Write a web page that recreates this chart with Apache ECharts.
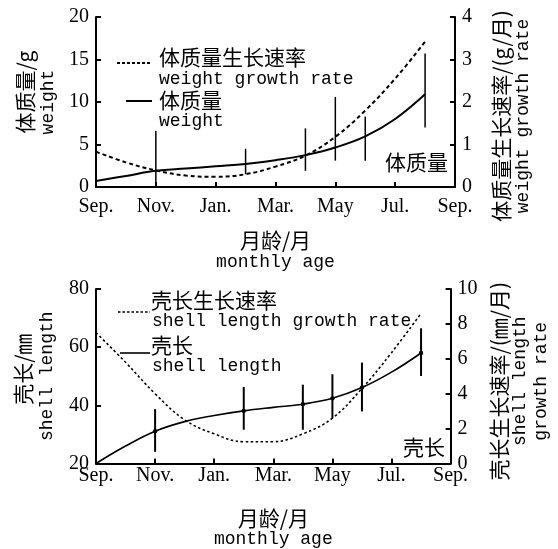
<!DOCTYPE html>
<html><head><meta charset="utf-8">
<script src="https://cdn.jsdelivr.net/npm/echarts@6/dist/echarts.min.js"></script>
<style>html,body{margin:0;padding:0;background:#fff}#c{width:558px;height:549px}</style>
</head><body><div id="c"></div>
<script>
const monthLabels = ['Sep.','Nov.','Jan.','Mar.','May','Jul.','Sep.'];
const months = [0,1,2,3,4,5,6,7,8,9,10,11];
const weight = [0.7,1.3,1.9,2.17,2.43,2.7,3.15,3.75,4.65,5.95,8.0,10.9];
const weightRate = [0.83,0.58,0.39,0.27,0.24,0.3,0.48,0.74,1.18,1.8,2.55,3.42];
const weightErrMonths = [2,5,7,8,9,11];
const weightErrLow = [0.6,1.5,1.9,3.1,3.1,7.0];
const weightErrHigh = [6.6,4.5,6.9,10.6,8.3,15.7];
const shell = [20,26,31.1,34.4,36.5,38.1,39.3,40.4,42.4,46.1,51.4,58];
const shellRate = [7.5,5.8,4.0,2.5,1.7,1.25,1.25,1.7,2.6,4.3,6.35,8.6];
const shellErrMonths = [2,5,7,8,9,11];
const shellErrMean = [31.1,38.1,40.4,42.4,46.1,58];
const shellErrLow = [24,31.6,31.6,35.6,37.9,50.1];
const shellErrHigh = [38.7,46.3,47.1,50.7,54.7,66.5];

const CJK = '"Noto Sans CJK SC"';
const MONO = '"Liberation Mono"';
const SERIF = '"Liberation Serif"';
const richName = (sp, padA) => ({
  a: {fontFamily: CJK, fontSize: 21, color: '#000', lineHeight: sp, padding: [0, 0, 0, padA || 0]},
  b: {fontFamily: MONO, fontSize: 18, color: '#000', lineHeight: sp}
});

function xAxisCfg(gridIndex, gap, labelMargin, sp) {
  return {
    type: 'value', gridIndex, min: 0, max: 12, interval: 2,
    name: '{a|月龄/月}\n{b|monthly age}', nameLocation: 'middle', nameGap: gap,
    nameTextStyle: {rich: richName(sp, 0)},
    axisLine: {lineStyle: {color: '#000', width: 2}},
    axisTick: {inside: true, length: 5, lineStyle: {color: '#000', width: 2}},
    axisLabel: {color: '#000', fontFamily: SERIF, fontSize: 20, margin: labelMargin,
      formatter: v => monthLabels[Math.round(v / 2)]},
    splitLine: {show: false}
  };
}
function yAxisCfg(gridIndex, pos, min, max, interval, name, gap, sp, pad, padA) {
  return {
    type: 'value', gridIndex, position: pos, min, max, interval,
    name, nameLocation: 'middle', nameGap: gap, nameRotate: 90,
    nameTextStyle: {rich: richName(sp, padA), padding: pad},
    axisLine: {show: true, lineStyle: {color: '#000', width: 2}},
    axisTick: {show: true, inside: true, length: 5, lineStyle: {color: '#000', width: 2}},
    axisLabel: {color: '#000', fontFamily: SERIF, fontSize: 20, margin: 7},
    splitLine: {show: false}
  };
}
function errSeries(xi, yi, ms, lo, hi, mean, width, dot) {
  return {
    type: 'custom', xAxisIndex: xi, yAxisIndex: yi,
    encode: {x: 0, y: [1, 2]},
    data: ms.map((m, i) => [m, lo[i], hi[i], mean ? mean[i] : 0]),
    renderItem: function (params, api) {
      const x = api.value(0);
      const p1 = api.coord([x, api.value(1)]);
      const p2 = api.coord([x, api.value(2)]);
      const children = [{type: 'line', shape: {x1: p1[0], y1: p1[1], x2: p2[0], y2: p2[1]},
        style: {stroke: '#000', lineWidth: width}}];
      if (dot) {
        const pm = api.coord([x, api.value(3)]);
        children.push({type: 'circle', shape: {cx: pm[0], cy: pm[1], r: 2.2}, style: {fill: '#000'}});
      }
      return {type: 'group', children};
    },
    z: 5
  };
}
function txt(x, y, text, font, align) {
  return {type: 'text', x, y, style: {text, font, fill: '#000', align: align || 'left', verticalAlign: 'middle'}};
}

const chart = echarts.init(document.getElementById('c'));
chart.setOption({
  backgroundColor: '#fff',
  animation: false,
  grid: [
    {left: 96, top: 17, width: 359, height: 170},
    {left: 96, top: 289, width: 359, height: 177}
  ],
  xAxis: [xAxisCfg(0, 42, 10, 22), xAxisCfg(1, 44, 2, 21)],
  yAxis: [
    yAxisCfg(0, 'left', 0, 20, 5, '{a|体质量/g}\n{b|weight}', 36, 23, [0, 0, 0, 0], 20),
    yAxisCfg(0, 'right', 0, 4, 1, '{a|体质量生长速率/(g/月)}\n{b|weight growth rate}', 35, 22, [0, 28, 0, 0], 0),
    yAxisCfg(1, 'left', 20, 80, 20, '{a|壳长/㎜}\n{b|shell length}', 37, 24, [0, 0, 0, 0], 14),
    yAxisCfg(1, 'right', 0, 10, 2, '{a|壳长生长速率/(㎜/月)}\n{b|shell length}\n{b|growth rate}', 32, 21, [0, 10, 0, 0], 0)
  ],
  series: [
    {type: 'line', xAxisIndex: 0, yAxisIndex: 0, data: months.map((m, i) => [m, weight[i]]),
      showSymbol: false, smooth: 0.4, lineStyle: {color: '#000', width: 2}},
    {type: 'line', xAxisIndex: 0, yAxisIndex: 1, data: months.map((m, i) => [m, weightRate[i]]),
      showSymbol: false, smooth: 0.4, lineStyle: {color: '#000', width: 2, type: [4, 3]}},
    errSeries(0, 0, weightErrMonths, weightErrLow, weightErrHigh, null, 1.5, false),
    {type: 'line', xAxisIndex: 1, yAxisIndex: 2, data: months.map((m, i) => [m, shell[i]]),
      showSymbol: false, smooth: 0.4, lineStyle: {color: '#000', width: 1.6}},
    {type: 'line', xAxisIndex: 1, yAxisIndex: 3, data: months.map((m, i) => [m, shellRate[i]]),
      showSymbol: false, smooth: 0.4, lineStyle: {color: '#000', width: 1.6, type: [2.5, 2.5]}},
    errSeries(1, 2, shellErrMonths, shellErrLow, shellErrHigh, shellErrMean, 2, true)
  ],
  graphic: [
    {type: 'line', shape: {x1: 117, y1: 63, x2: 151, y2: 63}, style: {stroke: '#000', lineWidth: 2, lineDash: [3, 2]}},
    txt(159, 57, '体质量生长速率', '21px ' + CJK),
    txt(159, 79, 'weight growth rate', '18px ' + MONO),
    {type: 'line', shape: {x1: 126, y1: 101, x2: 152, y2: 101}, style: {stroke: '#000', lineWidth: 2}},
    txt(159, 100, '体质量', '21px ' + CJK),
    txt(159, 121, 'weight', '18px ' + MONO),
    txt(448, 162, '体质量', '21px ' + CJK, 'right'),

    {type: 'line', shape: {x1: 118, y1: 312, x2: 150, y2: 312}, style: {stroke: '#000', lineWidth: 1.6, lineDash: [2.5, 2]}},
    txt(151, 300, '壳长生长速率', '21px ' + CJK),
    txt(152, 321, 'shell length growth rate', '18px ' + MONO),
    {type: 'line', shape: {x1: 120, y1: 353, x2: 150, y2: 353}, style: {stroke: '#000', lineWidth: 1.6}},
    txt(151, 345, '壳长', '21px ' + CJK),
    txt(152, 366, 'shell length', '18px ' + MONO),
    txt(445, 447, '壳长', '21px ' + CJK, 'right')
  ]
});
</script></body></html>
